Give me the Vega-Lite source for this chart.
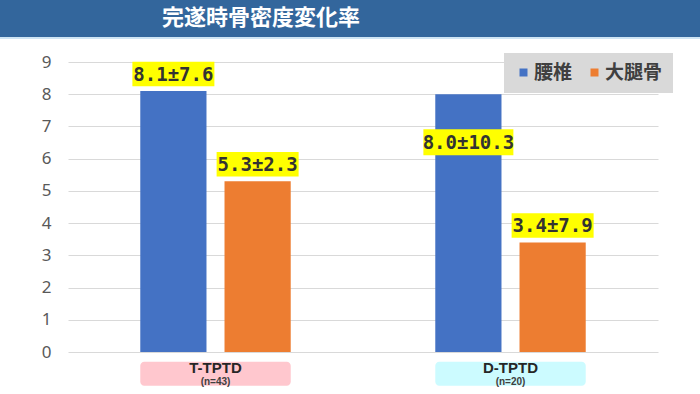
{
  "$schema": "https://vega.github.io/schema/vega-lite/v6.json",
  "width": 700,
  "height": 394,
  "padding": 0,
  "autosize": {"type": "none"},
  "background": "white",
  "config": {"view": {"stroke": null}},
  "datasets": {
    "bars": [
      {"group": "T-TPTD", "series": "腰椎", "value": 8.1, "label": "8.1±7.6"},
      {"group": "T-TPTD", "series": "大腿骨", "value": 5.3, "label": "5.3±2.3"},
      {"group": "D-TPTD", "series": "腰椎", "value": 8.0, "label": "8.0±10.3"},
      {"group": "D-TPTD", "series": "大腿骨", "value": 3.4, "label": "3.4±7.9"}
    ],
    "groups": [
      {"group": "T-TPTD", "n": "(n=43)"},
      {"group": "D-TPTD", "n": "(n=20)"}
    ],
    "title": [{"title": "完遂時骨密度変化率"}]
  },
  "data": {"name": "bars"},
  "layer": [
    {
      "mark": {"type": "bar"},
      "encoding": {
        "x": {"field": "group", "type": "nominal", "sort": ["T-TPTD", "D-TPTD"], "axis": null,
              "scale": {"domain": ["T-TPTD", "D-TPTD"], "range": [68, 658], "paddingInner": 0.49, "paddingOuter": 0.245}},
        "xOffset": {"field": "series", "type": "nominal", "scale": {"domain": ["腰椎", "大腿骨"], "paddingInner": 0.214, "paddingOuter": 0}},
        "y": {"field": "value", "type": "quantitative",
              "scale": {"domain": [-1.3035, 10.925], "nice": false, "zero": false},
              "axis": {"values": [0, 1, 2, 3, 4, 5, 6, 7, 8, 9], "tickCount": 20, "format": "d", "title": null, "domain": false, "ticks": false,
                       "grid": true, "gridColor": "#d9d9d9", "gridWidth": 1, "labelOverlap": false, "offset": -68,
                       "labelFontSize": 17, "labelColor": "#595959", "labelFont": "Noto Sans",
                       "labelPadding": 17}},
        "y2": {"datum": 0},
        "color": {"field": "series", "type": "nominal",
                  "scale": {"domain": ["腰椎", "大腿骨"], "range": ["#4472C4", "#ED7D31"]},
                  "legend": {"title": null, "orient": "none", "legendX": 504, "legendY": 53, "direction": "horizontal",
                             "fillColor": "#d9d9d9", "padding": 10, "symbolType": "square", "symbolSize": 64, "gridAlign": "none",
                             "symbolStrokeWidth": 0, "labelFont": "Noto Sans CJK JP", "labelFontWeight": "bold",
                             "labelFontSize": 19, "labelColor": "#404040", "labelOffset": 1, "columnPadding": 12}}
      }
    },
    {
      "data": {"name": "title"},
      "mark": {"type": "rect", "fill": "#CFE5F4"},
      "encoding": {"y": {"datum": 10.925, "type": "quantitative"}, "y2": {"datum": 9.714}}
    },
    {
      "data": {"name": "title"},
      "mark": {"type": "rect", "fill": "#33669C"},
      "encoding": {"y": {"datum": 10.925, "type": "quantitative"}, "y2": {"datum": 9.776}}
    },
    {
      "data": {"name": "title"},
      "mark": {"type": "text", "color": "white", "font": "Noto Sans CJK JP", "fontWeight": "bold", "fontSize": 22, "align": "center", "baseline": "middle", "dx": -89},
      "encoding": {"y": {"datum": 10.38, "type": "quantitative"}, "text": {"field": "title"}}
    },
    {
      "data": {"name": "groups"},
      "mark": {"type": "rect", "cornerRadius": 4},
      "encoding": {
        "x": {"field": "group", "type": "nominal"},
        "y": {"datum": -0.3, "type": "quantitative"},
        "y2": {"datum": -1.05},
        "fill": {"field": "group", "type": "nominal", "scale": {"domain": ["T-TPTD", "D-TPTD"], "range": ["#FFC7CE", "#CCFBFF"]}, "legend": null}
      }
    },
    {
      "data": {"name": "groups"},
      "mark": {"type": "text", "font": "Liberation Sans", "fontWeight": "bold", "fontSize": 15, "color": "#262626", "baseline": "middle"},
      "encoding": {"x": {"field": "group", "type": "nominal"}, "y": {"datum": -0.5, "type": "quantitative"}, "text": {"field": "group"}}
    },
    {
      "data": {"name": "groups"},
      "mark": {"type": "text", "font": "Liberation Sans", "fontWeight": "bold", "fontSize": 10, "color": "#404040", "baseline": "middle"},
      "encoding": {"x": {"field": "group", "type": "nominal"}, "y": {"datum": -0.92, "type": "quantitative"}, "text": {"field": "n"}}
    },
    {
      "transform": [{"filter": "!(datum.group == 'D-TPTD' && datum.series == '腰椎')"}],
      "mark": {"type": "point", "shape": "M-1,-0.3H1V0.3H-1Z", "size": 6724, "filled": true, "fill": "#FFFF00", "opacity": 1, "strokeWidth": 0, "yOffset": -17},
      "encoding": {"x": {"field": "group", "type": "nominal"}, "xOffset": {"field": "series", "type": "nominal"}, "y": {"field": "value", "type": "quantitative"}}
    },
    {
      "transform": [{"filter": "!(datum.group == 'D-TPTD' && datum.series == '腰椎')"}],
      "mark": {"type": "text", "font": "DejaVu Sans Mono", "fontWeight": "bold", "fontSize": 19, "color": "#333333", "baseline": "middle", "dy": -16},
      "encoding": {"x": {"field": "group", "type": "nominal"}, "xOffset": {"field": "series", "type": "nominal"}, "y": {"field": "value", "type": "quantitative"}, "text": {"field": "label"}}
    },
    {
      "transform": [{"filter": "datum.group == 'D-TPTD' && datum.series == '腰椎'"}],
      "mark": {"type": "point", "shape": "M-1,-0.29H1V0.29H-1Z", "size": 8100, "filled": true, "fill": "#FFFF00", "opacity": 1, "strokeWidth": 0, "yOffset": 48},
      "encoding": {"x": {"field": "group", "type": "nominal"}, "xOffset": {"field": "series", "type": "nominal"}, "y": {"field": "value", "type": "quantitative"}}
    },
    {
      "transform": [{"filter": "datum.group == 'D-TPTD' && datum.series == '腰椎'"}],
      "mark": {"type": "text", "font": "DejaVu Sans Mono", "fontWeight": "bold", "fontSize": 19, "color": "#333333", "baseline": "middle", "dy": 49},
      "encoding": {"x": {"field": "group", "type": "nominal"}, "xOffset": {"field": "series", "type": "nominal"}, "y": {"field": "value", "type": "quantitative"}, "text": {"field": "label"}}
    }
  ]
}
